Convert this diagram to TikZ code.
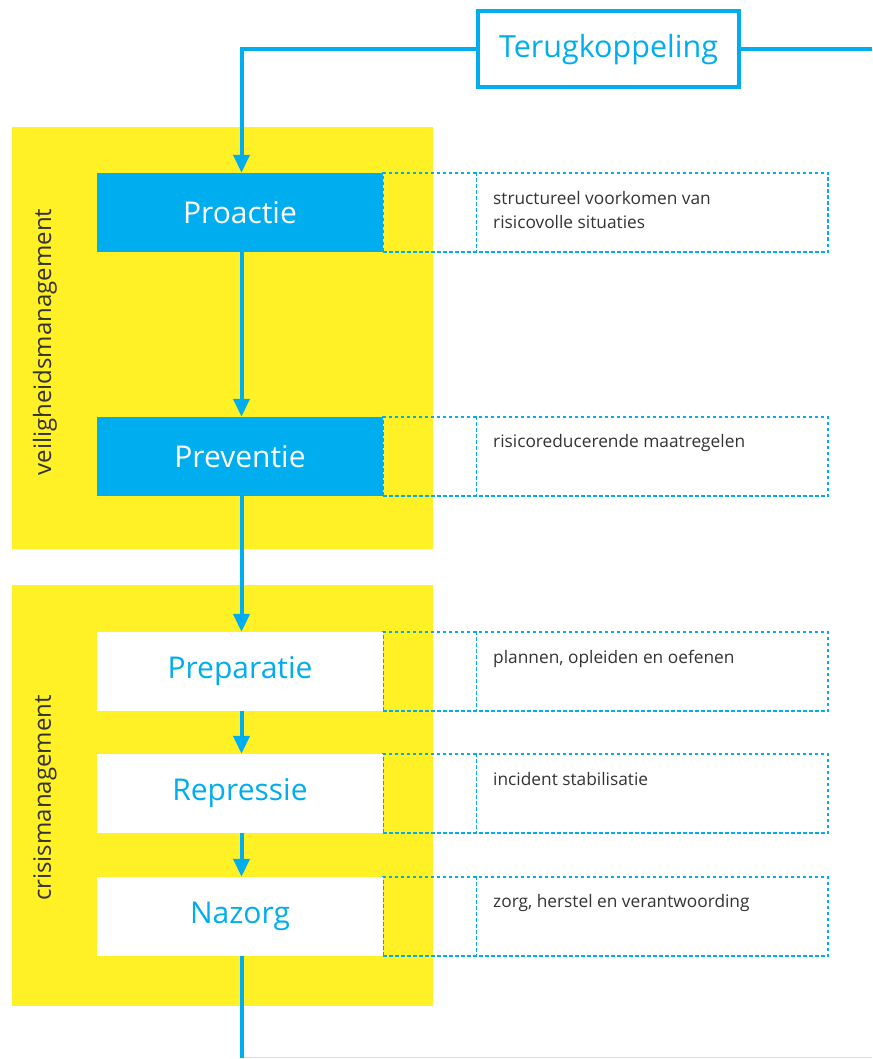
\documentclass[tikz,border=0pt]{standalone}
\usepackage{fontspec}
\setmainfont{Open Sans}
\usetikzlibrary{arrows.meta}
\definecolor{cyanb}{HTML}{00AEEF}
\definecolor{yel}{HTML}{FFF126}
\definecolor{txtd}{HTML}{333333}
\definecolor{faint}{HTML}{BFE9FB}
\tikzset{
  band/.style={fill=yel, draw=none},
  phasefull/.style={fill=cyanb, draw=none, minimum width=286pt, minimum height=79pt, inner sep=0pt, text=white, font=\fontsize{30}{34}\selectfont},
  phasewhite/.style={fill=white, draw=none, minimum width=286pt, minimum height=79pt, inner sep=0pt, text=cyanb, font=\fontsize{30}{34}\selectfont},
  descbox/.style={draw=cyanb, line width=1.4pt, dash pattern=on 3.5pt off 2.5pt, minimum width=445pt, minimum height=79pt, inner sep=0pt},
  divider/.style={draw=cyanb, line width=1.4pt, dash pattern=on 3.5pt off 2.5pt},
  desctext/.style={anchor=north west, inner sep=0pt, text=txtd, align=left, font=\fontsize{17.3}{24}\selectfont},
  sidelabel/.style={rotate=90, text=txtd, font=\fontsize{24}{28}\selectfont, inner sep=0pt},
  flow/.style={draw=cyanb, line width=4pt},
  flowarrow/.style={flow, -{Triangle[width=16pt,length=18pt]}},
  fbbox/.style={draw=cyanb, line width=4pt, fill=white, minimum width=261pt, minimum height=76pt, inner sep=0pt, text=cyanb, font=\fontsize{30.5}{34}\selectfont},
}
\begin{document}
\begin{tikzpicture}[x=1pt,y=-1pt]
\useasboundingbox (0,0) rectangle (872,1059);
% yellow bands
\fill[band] (12,127) rectangle (433,549);
\fill[band] (12,585) rectangle (433,1006);
\node[sidelabel] (vm) at (45,342) {veiligheidsmanagement};
\node[sidelabel] (cm) at (45,798) {crisismanagement};
% description boxes
\node[descbox] (d1) at (605.5,212.5) {};
\node[descbox] (d2) at (605.5,456.5) {};
\node[descbox] (d3) at (605.5,671.5) {};
\node[descbox] (d4) at (605.5,793.5) {};
\node[descbox] (d5) at (605.5,916.5) {};
\foreach \d in {d1,d2,d3,d4,d5}{
  \draw[divider] ([xshift=94pt]\d.north west) -- ([xshift=94pt]\d.south west);
}
\node[desctext] (t1) at (493,191) {structureel voorkomen van\\risicovolle situaties};
\node[desctext] (t2) at (493,434) {risicoreducerende maatregelen};
\node[desctext] (t3) at (493,650) {plannen, opleiden en oefenen};
\node[desctext] (t4) at (493,772) {incident stabilisatie};
\node[desctext] (t5) at (493,894) {zorg, herstel en verantwoording};
% phase boxes
\node[phasefull] (pro) at (240,212.5) {Proactie};
\node[phasefull] (pre) at (240,456.5) {Preventie};
\node[phasewhite] (prep) at (240,671.5) {Preparatie};
\node[phasewhite] (rep) at (240,793.5) {Repressie};
\node[phasewhite] (naz) at (240,916.5) {Nazorg};
% feedback
\node[fbbox] (fb) at (608.5,49.5) {Terugkoppeling};
\coordinate (fbcorner) at (241.5,49.5);
\coordinate (fbright) at (872,49.5);
\coordinate (botcorner) at (241.5,1057.5);
\coordinate (botright) at (872,1057.5);
\draw[flow] (fb.east) -- (fbright);
\draw[flowarrow] (fb.west) -- (fbcorner) -- (fbcorner |- pro.north);
\draw[flowarrow] (fbcorner |- pro.south) -- (fbcorner |- pre.north);
\draw[flowarrow] (fbcorner |- pre.south) -- (fbcorner |- prep.north);
\draw[flowarrow] (fbcorner |- prep.south) -- (fbcorner |- rep.north);
\draw[flowarrow] (fbcorner |- rep.south) -- (fbcorner |- naz.north);
\draw[draw=faint, line width=1.5pt] (botcorner) -- (botright);
\draw[flow] (fbcorner |- naz.south) -- (botcorner);
\end{tikzpicture}
\end{document}
